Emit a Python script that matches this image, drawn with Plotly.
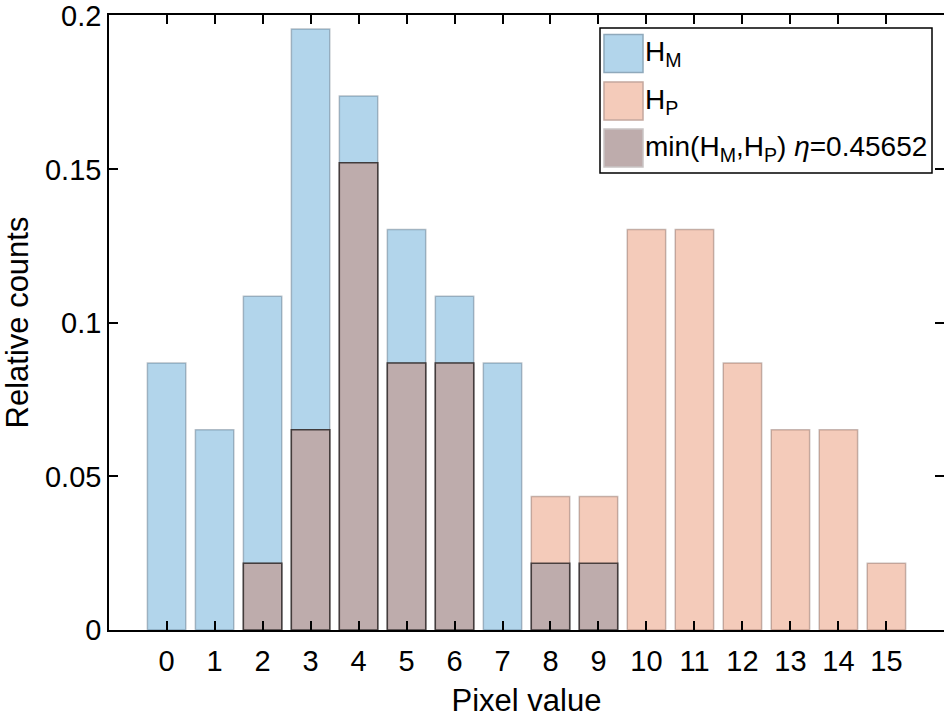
import plotly.graph_objects as go

# ---- data ----
pixel_values = list(range(16))
tick_labels = [str(v) for v in pixel_values]
H_M = [0.0870, 0.0652, 0.1087, 0.1957, 0.1739, 0.1304, 0.1087, 0.0870,
       0.0217, 0.0217, 0, 0, 0, 0, 0, 0]
H_P = [0, 0, 0.0217, 0.0652, 0.1522, 0.0870, 0.0870, 0,
       0.0435, 0.0435, 0.1304, 0.1304, 0.0870, 0.0652, 0.0652, 0.0217]
H_min = [0, 0, 0.0217, 0.0652, 0.1522, 0.0870, 0.0870, 0,
         0.0217, 0.0217, 0, 0, 0, 0, 0, 0]
eta = 0.45652
y_ticks = [0, 0.05, 0.1, 0.15, 0.2]
y_tick_labels = ["0", "0.05", "0.1", "0.15", "0.2"]
legend_labels = ["H<sub>M</sub>", "H<sub>P</sub>",
                 "min(H<sub>M</sub>,H<sub>P</sub>) <i>η</i>=" + str(eta)]

# ---- styles ----
W, H = 944, 724
ML, MR, MT, MB = 109, 0, 15, 94
FONT = "Liberation Sans, Arial, Helvetica, sans-serif"
fills = ["#b2d5eb", "#f4cbba", "#beacac"]
edges = ["rgba(60,80,100,0.35)", "rgba(100,70,60,0.35)", "rgba(30,25,25,0.75)"]
swatch_edges = ["#8fa9bb", "#c4a89e", "#c9c4c4"]


def nz(vals):
    return [v if v > 0 else None for v in vals]


fig = go.Figure()
for vals, fc, ec, name in zip([H_M, H_P, H_min], fills, edges, legend_labels):
    fig.add_trace(go.Bar(
        x=pixel_values, y=nz(vals), width=0.8, name=name,
        marker=dict(color=fc, line=dict(color=ec, width=1.5)),
        showlegend=False,
    ))

# ---- manual MATLAB-style legend (pixel -> paper conversion) ----
pw, ph = W - ML - MR, H - MT - MB


def px(x):
    return (x - ML) / pw


def py(y):
    return (H - MB - y) / ph


shapes = [dict(type="rect", xref="paper", yref="paper",
               x0=px(600), x1=px(932), y0=py(173), y1=py(28),
               line=dict(color="black", width=1.5), fillcolor="white", layer="above")]
annotations = []
centers = [53.5, 101.0, 148.0]
for c, fc, ec, lab in zip(centers, fills, swatch_edges, legend_labels):
    shapes.append(dict(type="rect", xref="paper", yref="paper",
                       x0=px(604), x1=px(643), y0=py(c + 19), y1=py(c - 19),
                       line=dict(color=ec, width=1.5), fillcolor=fc, layer="above"))
    annotations.append(dict(xref="paper", yref="paper", x=px(643), y=py(c),
                            xanchor="left", yanchor="middle", text=lab,
                            showarrow=False, font=dict(family=FONT, size=28, color="black")))

fig.update_layout(
    width=W, height=H,
    margin=dict(l=ML, r=MR, t=MT, b=MB, pad=0, autoexpand=False),
    barmode="overlay",
    plot_bgcolor="white", paper_bgcolor="white",
    font=dict(family=FONT, size=29, color="black"),
    shapes=shapes, annotations=annotations,
    xaxis=dict(range=[-1.2, 16.2], tickmode="array", tickvals=pixel_values,
               ticktext=tick_labels, ticks="inside", ticklen=9, tickwidth=1.5,
               tickcolor="black", showline=True, linecolor="black", linewidth=2,
               mirror="allticks", showgrid=False, zeroline=False,
               ticklabelstandoff=4, automargin=False,
               title=dict(text="Pixel value", font=dict(size=31), standoff=14)),
    yaxis=dict(range=[0, 0.2003], tickmode="array", tickvals=y_ticks,
               ticktext=y_tick_labels, ticks="inside", ticklen=9, tickwidth=1.5,
               tickcolor="black", showline=True, linecolor="black", linewidth=1.5,
               mirror="allticks", showgrid=False, zeroline=False,
               ticklabelstandoff=0, automargin=False,
               title=dict(text="Relative counts", font=dict(size=31), standoff=12)),
)

fig.write_html("out.html", config={"displayModeBar": False},
               post_script="document.body.style.margin='0';document.body.style.padding='0';")
